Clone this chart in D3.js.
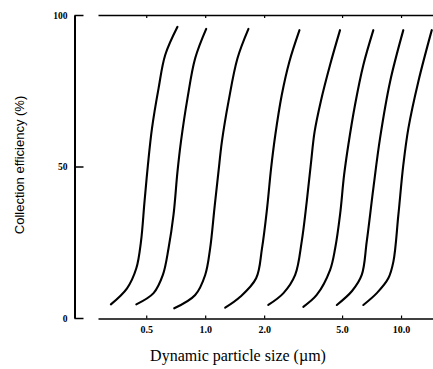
<!DOCTYPE html>
<html>
<head>
<meta charset="utf-8">
<script src="https://cdn.jsdelivr.net/npm/d3@7/dist/d3.min.js"></script>
<style>
  html, body { margin: 0; padding: 0; background: #fff; }
  svg { display: block; }
</style>
</head>
<body>
<svg id="chart" width="433" height="369"></svg>
<script>
// Axis ticks
const sizeTicks = [0.5, 1, 2, 5, 10];
const sizeTickLabels = ["0.5", "1.0", "2.0", "5.0", "10.0"];
const effTicks = [0, 50, 100];
const effTickLabels = ["0", "50", "100"];

// Collection efficiency curves: [particle size (µm), efficiency (%)]
const stage1 = [[0.330, 4.5], [0.399, 9.8], [0.445, 16.4], [0.470, 25.2], [0.490, 38.4],
                [0.510, 50.5], [0.535, 62.6], [0.578, 75.8], [0.625, 86.8], [0.722, 96.1]];
const stage2 = [[0.445, 4.5], [0.545, 8.2], [0.608, 14.2], [0.650, 23.0], [0.689, 34.0],
                [0.722, 48.3], [0.752, 58.2], [0.812, 72.5], [0.889, 85.7], [1.012, 95.4]];
const stage3 = [[0.695, 3.2], [0.889, 7.6], [1.000, 14.2], [1.060, 23.0], [1.115, 36.2],
                [1.169, 48.3], [1.217, 58.2], [1.315, 71.4], [1.462, 85.7], [1.663, 95.4]];
const stage4 = [[1.265, 3.4], [1.51, 7.0], [1.82, 13.1], [1.95, 23.0], [2.07, 36.2],
                [2.17, 49.4], [2.28, 60.4], [2.46, 73.6], [2.69, 84.6], [3.03, 95.0]];
const stage5 = [[2.10, 4.3], [2.51, 8.2], [2.88, 14.2], [3.11, 25.2], [3.30, 38.4],
                [3.46, 50.5], [3.62, 61.5], [3.89, 71.4], [4.34, 83.5], [4.88, 95.0]];
const stage6 = [[3.17, 3.7], [3.71, 7.6], [4.34, 15.8], [4.61, 23.0], [4.88, 34.0],
                [5.12, 47.2], [5.38, 57.1], [5.82, 70.3], [6.42, 83.5], [7.22, 95.0]];
const stage7 = [[4.70, 4.3], [5.62, 8.9], [6.30, 14.2], [6.68, 25.2], [7.22, 42.8],
                [7.81, 59.3], [8.79, 78.0], [10.27, 95.0]];
const stage8 = [[6.42, 4.3], [7.54, 8.3], [8.61, 13.1], [9.14, 18.6], [9.69, 34.0],
                [10.27, 50.5], [10.90, 62.6], [12.25, 78.0], [14.35, 95.0]];
const stages = [stage1, stage2, stage3, stage4, stage5, stage6, stage7, stage8];

const svg = d3.select("#chart");

const x = d3.scaleLog().domain([0.2836, 14.56]).range([98, 433]);
const y = d3.scaleLinear().domain([0, 100]).range([318, 15]);

const tickFont = "'Liberation Serif', 'DejaVu Serif', serif";

// Left (efficiency) axis
const yAxis = svg.append("g")
  .attr("transform", "translate(74.5,0)")
  .call(d3.axisLeft(y)
    .tickValues(effTicks)
    .tickFormat((d, i) => effTickLabels[i])
    .tickSizeInner(-9)
    .tickSizeOuter(0)
    .tickPadding(7));
yAxis.select(".domain").attr("stroke", "#000").attr("stroke-width", 2);
yAxis.selectAll(".tick line").attr("stroke", "#000").attr("stroke-width", 1.5);
yAxis.selectAll(".tick text")
  .attr("font-family", tickFont).attr("font-weight", "bold")
  .attr("font-size", 9.5).attr("fill", "#000");

// Bottom (particle size) axis
const xAxis = svg.append("g")
  .attr("transform", "translate(0,318.5)")
  .call(d3.axisBottom(x)
    .tickValues(sizeTicks)
    .tickFormat((d, i) => sizeTickLabels[i])
    .tickSizeInner(-3)
    .tickSizeOuter(0)
    .tickPadding(7));
xAxis.select(".domain").attr("stroke", "#000").attr("stroke-width", 1.6);
xAxis.selectAll(".tick line").attr("stroke", "#000").attr("stroke-width", 1.2);
xAxis.selectAll(".tick text")
  .attr("font-family", tickFont).attr("font-weight", "bold")
  .attr("font-size", 10).attr("fill", "#000");

// Top frame line with matching ticks
const xTop = svg.append("g")
  .attr("transform", "translate(0,15)")
  .call(d3.axisTop(x)
    .tickValues(sizeTicks)
    .tickFormat("")
    .tickSizeInner(-3)
    .tickSizeOuter(0));
xTop.select(".domain").attr("stroke", "#000").attr("stroke-width", 1.6);
xTop.selectAll(".tick line").attr("stroke", "#000").attr("stroke-width", 1.2);

// Efficiency curves
const line = d3.line()
  .x(d => x(d[0]))
  .y(d => y(d[1]))
  .curve(d3.curveCatmullRom.alpha(0.5));

svg.append("g")
  .selectAll("path")
  .data(stages)
  .join("path")
  .attr("d", line)
  .attr("fill", "none")
  .attr("stroke", "#000")
  .attr("stroke-width", 2.1)
  .attr("stroke-linecap", "round");

// Axis titles
svg.append("text")
  .attr("transform", "translate(24,165) rotate(-90)")
  .attr("text-anchor", "middle")
  .attr("font-family", "'Liberation Sans', Arial, sans-serif")
  .attr("font-size", 13)
  .attr("fill", "#000")
  .text("Collection efficiency (%)");

svg.append("text")
  .attr("x", 238)
  .attr("y", 361)
  .attr("text-anchor", "middle")
  .attr("font-family", "'Liberation Serif', 'DejaVu Serif', serif")
  .attr("font-size", 16)
  .attr("fill", "#000")
  .text("Dynamic particle size (µm)");
</script>
</body>
</html>
